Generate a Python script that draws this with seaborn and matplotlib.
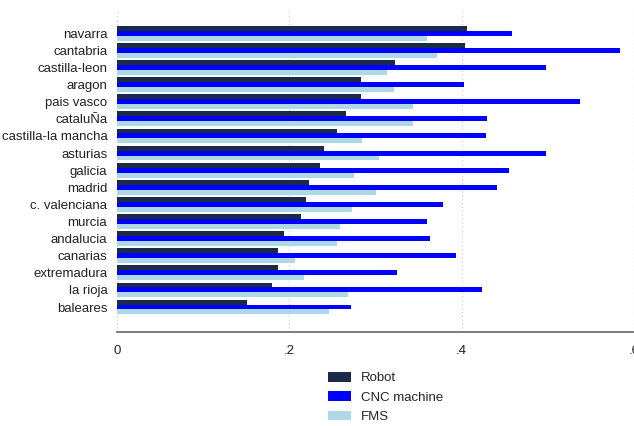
import pandas as pd
import seaborn as sns
import matplotlib
matplotlib.use('Agg')
import matplotlib.pyplot as plt

regions = ['navarra', 'cantabria', 'castilla-leon', 'aragon', 'pais vasco', 'cataluÑa',
           'castilla-la mancha', 'asturias', 'galicia', 'madrid', 'c. valenciana', 'murcia',
           'andalucia', 'canarias', 'extremadura', 'la rioja', 'baleares']
robot = [0.406, 0.404, 0.323, 0.283, 0.283, 0.266, 0.255, 0.240, 0.236, 0.223, 0.219,
         0.213, 0.194, 0.187, 0.187, 0.180, 0.151]
cnc = [0.458, 0.584, 0.498, 0.403, 0.537, 0.429, 0.428, 0.498, 0.455, 0.441, 0.378,
       0.360, 0.363, 0.393, 0.325, 0.424, 0.271]
fms = [0.360, 0.371, 0.313, 0.321, 0.344, 0.344, 0.284, 0.304, 0.275, 0.301, 0.273,
       0.259, 0.255, 0.206, 0.217, 0.268, 0.246]
series = ['Robot', 'CNC machine', 'FMS']
colors = ['#1c2a4a', '#0000ff', '#add8e6']
xticks = [0, 0.2, 0.4, 0.6]
xticklabels = ['0', '.2', '.4', '.6']

df = pd.DataFrame({'region': regions * 3,
                   'value': robot + cnc + fms,
                   'type': [s for s in series for _ in regions]})

sns.set_style('white')
plt.rcParams['font.family'] = ['Liberation Sans', 'DejaVu Sans']

W, H = 634, 426
fig = plt.figure(figsize=(W / 100, H / 100), dpi=100)
ax = fig.add_axes([117 / W, (H - 332) / H, 1 - 117 / W, (332 - 9) / H])

sns.barplot(data=df, x='value', y='region', hue='type', orient='h', order=regions,
            hue_order=series, palette=colors, saturation=1, width=0.86,
            linewidth=0, ax=ax)

ax.set_xlim(0, 0.6)
ax.set_ylim(17.46, -1.42)
ax.set_xticks(xticks)
ax.set_xticklabels(xticklabels, fontsize=9.5, color='#222222')
ax.tick_params(axis='x', direction='out', length=4, color='#666666', pad=5)
ax.tick_params(axis='y', length=0, pad=7, labelsize=9.5, labelcolor='#222222')
ax.set_xlabel('')
ax.set_ylabel('')
ax.grid(axis='x', linestyle=(0, (1, 2.5)), color='#c8c8c8', linewidth=0.8)
ax.set_axisbelow(True)
for side in ['left', 'top', 'right']:
    ax.spines[side].set_visible(False)
ax.spines['bottom'].set_color('#666666')
ax.spines['bottom'].set_linewidth(1.2)

handles, labels = ax.get_legend_handles_labels()
ax.get_legend().remove()
fig.legend(handles, labels, loc='upper left', bbox_to_anchor=(328 / W, 1 - 372 / H),
           frameon=False, fontsize=9.5, borderpad=0, handlelength=1.75,
           handleheight=0.76, handletextpad=0.76, labelspacing=0.52, borderaxespad=0)

fig.savefig('out.png', dpi=100)
